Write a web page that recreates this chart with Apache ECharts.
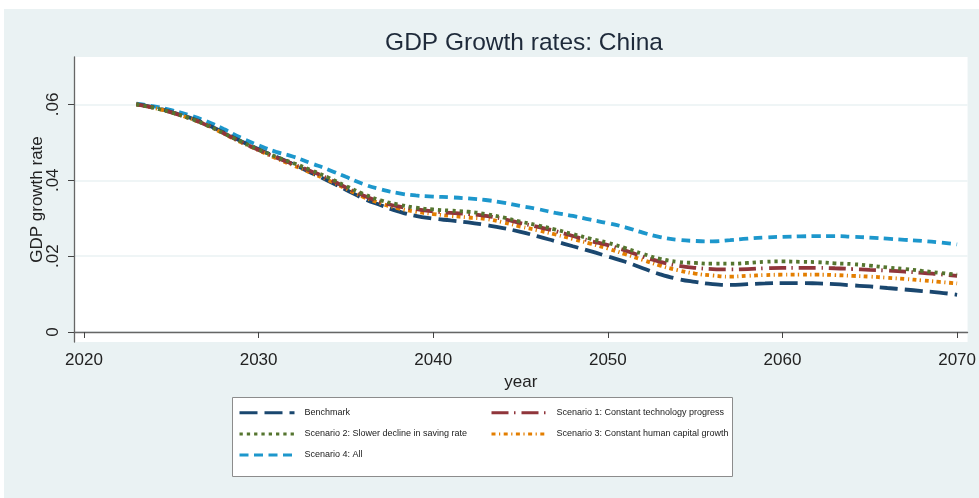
<!DOCTYPE html>
<html>
<head>
<meta charset="utf-8">
<script src="https://cdn.jsdelivr.net/npm/echarts@6/dist/echarts.min.js"></script>
<style>
html,body{margin:0;padding:0;background:#fff;}
#chart{width:979px;height:498px;}
</style>
</head>
<body>
<div id="chart"></div>
<script>
const years = [2023,2024,2025,2026,2027,2028,2029,2030,2031,2032,2033,2034,2035,2036,2037,2038,2039,2040,2041,2042,2043,2044,2045,2046,2047,2048,2049,2050,2051,2052,2053,2054,2055,2056,2057,2058,2059,2060,2061,2062,2063,2064,2065,2066,2067,2068,2069,2070];

const benchmark = [.0600,.0592,.0580,.0566,.0548,.0526,.0503,.0482,.0462,.0442,.0420,.0398,.0375,.0352,.0334,.0318,.0306,.0299,.0294,.0289,.0282,.0274,.0264,.0252,.0239,.0226,.0213,.0199,.0185,.0168,.0152,.0140,.0132,.0126,.0124,.0126,.0128,.0129,.0129,.0128,.0126,.0123,.0120,.0116,.0112,.0108,.0104,.0098];

const scenario1 = [.0600,.0591,.0579,.0564,.0546,.0524,.0501,.0480,.0460,.0442,.0424,.0404,.0381,.0360,.0343,.0331,.0324,.0318,.0314,.0311,.0306,.0298,.0287,.0277,.0266,.0253,.0240,.0229,.0215,.0199,.0185,.0175,.0169,.0166,.0165,.0166,.0168,.0169,.0169,.0169,.0168,.0166,.0164,.0162,.0159,.0156,.0152,.0148];

const scenario2 = [.0600,.0591,.0579,.0564,.0546,.0524,.0502,.0481,.0462,.0445,.0427,.0407,.0385,.0364,.0347,.0336,.0328,.0323,.0320,.0317,.0311,.0302,.0291,.0281,.0270,.0258,.0246,.0235,.0221,.0206,.0193,.0185,.0182,.0180,.0180,.0182,.0185,.0186,.0185,.0184,.0181,.0179,.0175,.0170,.0166,.0161,.0156,.0151];

const scenario3 = [.0600,.0591,.0579,.0564,.0546,.0523,.0500,.0479,.0458,.0439,.0420,.0400,.0378,.0356,.0339,.0326,.0317,.0311,.0306,.0302,.0298,.0289,.0278,.0268,.0257,.0245,.0233,.0220,.0205,.0190,.0175,.0163,.0154,.0149,.0146,.0148,.0150,.0151,.0151,.0151,.0150,.0148,.0146,.0143,.0140,.0136,.0132,.0128];

const scenario4 = [.0602,.0595,.0585,.0572,.0556,.0535,.0512,.0492,.0475,.0462,.0445,.0428,.0409,.0390,.0376,.0366,.0360,.0357,.0355,.0352,.0348,.0341,.0332,.0324,.0314,.0306,.0296,.0287,.0276,.0262,.0250,.0243,.0240,.0239,.0242,.0246,.0249,.0251,.0252,.0253,.0253,.0251,.0249,.0246,.0243,.0240,.0236,.0231];

const xTicks = [2020,2030,2040,2050,2060,2070];
const yTicks = [0,0.02,0.04,0.06];

const names = ['Benchmark','Scenario 1: Constant technology progress','Scenario 2: Slower decline in saving rate','Scenario 3: Constant human capital growth','Scenario 4: All'];

const chart = echarts.init(document.getElementById('chart'), null, {renderer:'canvas'});

function mk(name, vals, color, dash, z){
  return {
    name: name, type:'line', smooth:true, symbol:'none', z:z,
    data: years.map((y,i)=>[y, vals[i]]),
    lineStyle:{color:color, width:3.8, type:dash, cap:'butt'},
    itemStyle:{color:color}
  };
}

const font = 'Liberation Sans, Arial, sans-serif';

const legendCommon = {
  orient:'vertical', padding:0, itemWidth:55, itemHeight:12, itemGap:11.5,
  lineStyle:{width:3},
  itemStyle:{opacity:0},
  textStyle:{fontFamily:font, fontSize:9, color:'#1a1a1a', padding:[0,0,0,5]}
};

chart.setOption({
  backgroundColor:'#EAF2F3',
  animation:false,
  title:{
    text:'GDP Growth rates: China', left:519, top:26, textAlign:'center',
    textStyle:{fontFamily:font, fontSize:24.5, fontWeight:'normal', color:'#1e2a3a'}
  },
  grid:{left:74, top:57, width:899, height:285, show:true, backgroundColor:'#fff', borderWidth:0},
  xAxis:{
    type:'value', min:2019.43, max:2070.6,
    name:'year', nameLocation:'middle', nameGap:26,
    nameTextStyle:{fontFamily:font, fontSize:17, color:'#222'},
    axisLine:{lineStyle:{color:'#666', width:1.3}},
    axisTick:{show:true, length:6, lineStyle:{color:'#444'}, customValues:xTicks},
    axisLabel:{fontFamily:font, fontSize:17, color:'#222', margin:10, customValues:xTicks, formatter:v=>String(v)},
    splitLine:{show:false}
  },
  yAxis:{
    type:'value', min:-0.00264, max:0.0725,
    name:'GDP growth rate', nameLocation:'middle', nameGap:28, nameRotate:90, nameMoveOverlap:false,
    nameTextStyle:{fontFamily:font, fontSize:17, color:'#222'},
    axisLine:{show:true, lineStyle:{color:'#666', width:1.3}},
    axisTick:{show:true, length:6, lineStyle:{color:'#444'}, customValues:yTicks},
    axisLabel:{fontFamily:font, fontSize:17, color:'#222', margin:12, rotate:90, customValues:yTicks,
      formatter:v=> (Math.abs(v)<1e-9 ? '0' : String(+v.toFixed(2)).replace(/^0\./,'.'))},
    splitLine:{show:true, lineStyle:{color:'#EAF2F3', width:1.5}}
  },
  legend:[
    Object.assign({left:238, top:408, data:[names[0],names[2],names[4]]}, legendCommon),
    Object.assign({left:490, top:408, data:[names[1],names[3]]}, legendCommon)
  ],
  graphic:[
    {type:'rect', shape:{x:0,y:0,width:979,height:9}, style:{fill:'#fff'}, silent:true, z:0},
    {type:'rect', shape:{x:0,y:0,width:4,height:498}, style:{fill:'#fff'}, silent:true, z:0},
    {type:'rect', shape:{x:232.5,y:397.5,width:500,height:79}, style:{fill:'#fff', stroke:'#8c8c8c', lineWidth:1}, silent:true, z:1}
  ],
  series:[
    mk(names[4], scenario4, '#1d97cc', [9,5.5], 3),
    mk(names[0], benchmark, '#1a476f', [18,7], 4),
    mk(names[3], scenario3, '#e37e00', [4,3.5,1.2,3.5], 5),
    mk(names[1], scenario1, '#90353b', [17,5.5,1.5,6], 6),
    mk(names[2], scenario2, '#55752f', [3.3,4], 7)
  ]
});
</script>
</body>
</html>
